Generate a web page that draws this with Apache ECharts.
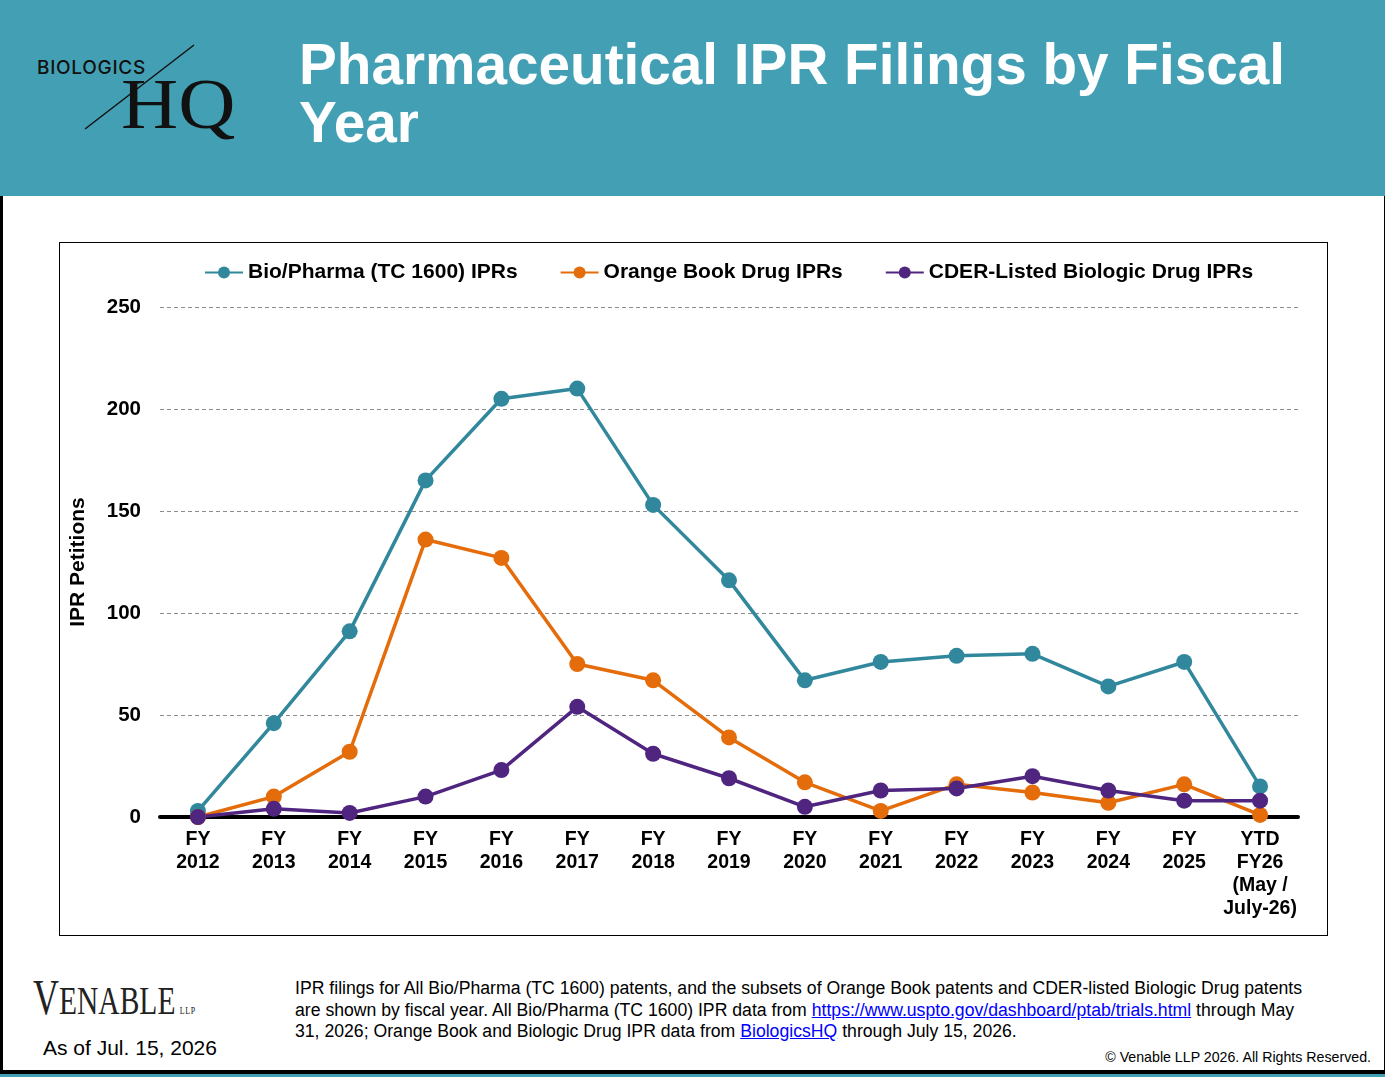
<!DOCTYPE html>
<html>
<head>
<meta charset="utf-8">
<title>Pharmaceutical IPR Filings by Fiscal Year</title>
<script src="https://cdn.jsdelivr.net/npm/echarts@6/dist/echarts.min.js"></script>
<style>
  html, body { margin: 0; padding: 0; }
  body { width: 1385px; height: 1077px; position: relative; overflow: hidden; background: #fff; font-family: "Liberation Sans", Arial, sans-serif; }
  #header { position: absolute; left: 0; top: 0; width: 1385px; height: 196px; background: #43A0B4; }
  #frame { position: absolute; left: 0; top: 196px; width: 1381px; height: 874px; border-left: 3px solid #000; border-right: 1px solid #000; border-bottom: 4px solid #000; }
  #strip { position: absolute; left: 0; top: 1074px; width: 1385px; height: 3px; background: #43A0B4; }
  #title { position: absolute; left: 299px; top: 36px; color: #fff; font-weight: bold; font-size: 56.7px; line-height: 58px; white-space: nowrap; }
  #logo-bio { position: absolute; left: 37px; top: 56px; font-family: Inter, "Noto Sans", sans-serif; font-weight: 500; font-size: 19px; line-height: 24px; color: #111; letter-spacing: 0.7px; }
  #logo-hq { position: absolute; left: 121px; top: 68px; font-family: "Liberation Serif", "Times New Roman", serif; font-size: 72px; line-height: 72px; color: #111; transform: scaleX(1.1); transform-origin: left top; }
  #logo-line { position: absolute; left: 0; top: 0; }
  #box { position: absolute; left: 59px; top: 242px; width: 1267px; height: 692px; border: 1px solid #000; }
  #chart { width: 1267px; height: 692px; }
  #venable { position: absolute; left: 33px; top: 972px; font-family: "Liberation Serif", "Times New Roman", serif; color: #222; white-space: nowrap; transform: scaleX(0.72); transform-origin: left top; line-height: 50px; }
  #venable .v { font-size: 50px; }
  #venable .rest { font-size: 41px; }
  #venable .llp { font-size: 11px; margin-left: 6px; letter-spacing: 1px; }
  #asof { position: absolute; left: 43px; top: 1036px; font-size: 21px; line-height: 24px; color: #000; }
  #note { position: absolute; left: 295px; top: 978px; font-size: 17.65px; line-height: 21.5px; color: #000; white-space: nowrap; }
  #note a { color: #0000FF; text-decoration: underline; }
  #copy { position: absolute; right: 14px; top: 1049px; font-size: 14.2px; line-height: 16px; color: #000; }
</style>
</head>
<body>
<div id="header">
  <svg id="logo-line" width="260" height="196"><line x1="85" y1="129" x2="194" y2="45" stroke="#111" stroke-width="1.5"/></svg>
  <div id="logo-bio">BIOLOGICS</div>
  <div id="logo-hq">HQ</div>
  <div id="title">Pharmaceutical IPR Filings by Fiscal<br>Year</div>
</div>
<div id="frame"></div>
<div id="strip"></div>
<div id="box"><div id="chart"></div></div>
<div id="venable"><span class="v">V</span><span class="rest">ENABLE</span><span class="llp">LLP</span></div>
<div id="asof">As of Jul. 15, 2026</div>
<div id="note">IPR filings for All Bio/Pharma (TC 1600) patents, and the subsets of Orange Book patents and CDER-listed Biologic Drug patents<br>are shown by fiscal year. All Bio/Pharma (TC 1600) IPR data from <a href="https://www.uspto.gov/dashboard/ptab/trials.html">https://www.uspto.gov/dashboard/ptab/trials.html</a> through May<br>31, 2026; Orange Book and Biologic Drug IPR data from <a href="https://www.biologicshq.com">BiologicsHQ</a> through July 15, 2026.</div>
<div id="copy">© Venable LLP 2026. All Rights Reserved.</div>

<script>
// 数据
var categories = ['FY\n2012', 'FY\n2013', 'FY\n2014', 'FY\n2015', 'FY\n2016', 'FY\n2017', 'FY\n2018',
    'FY\n2019', 'FY\n2020', 'FY\n2021', 'FY\n2022', 'FY\n2023', 'FY\n2024', 'FY\n2025', 'YTD\nFY26\n(May /\nJuly-26)'];
var seriesNames = ['Bio/Pharma (TC 1600) IPRs', 'Orange Book Drug IPRs', 'CDER-Listed Biologic Drug IPRs'];
var bioPharma = [3, 46, 91, 165, 205, 210, 153, 116, 67, 76, 79, 80, 64, 76, 15];
var orangeBook = [0, 10, 32, 136, 127, 75, 67, 39, 17, 3, 16, 12, 7, 16, 1];
var cderBiologic = [0, 4, 2, 10, 23, 54, 31, 19, 5, 13, 14, 20, 13, 8, 8];
var yMin = 0, yMax = 250, yStep = 50;

var colors = ['#31889D', '#E46C0A', '#4F2580'];
var fontFam = 'Liberation Sans, Arial, sans-serif';

// 文字样式
function txt(size) {
    return { color: '#000', fontWeight: 'bold', fontSize: size, fontFamily: fontFam };
}

function lineSeries(name, data) {
    return {
        name: name,
        type: 'line',
        data: data,
        symbol: 'circle',
        symbolSize: 16,
        lineStyle: { width: 3.5 },
        emphasis: { disabled: true }
    };
}

var myChart = echarts.init(document.getElementById('chart'));
myChart.setOption({
    animation: false,
    color: colors,
    textStyle: { fontFamily: fontFam },
    legend: {
        top: 14,
        left: 139,
        itemWidth: 38,
        itemHeight: 15,
        itemGap: 42,
        textStyle: txt(21),
        data: seriesNames
    },
    grid: { left: 100, right: 29, top: 64, bottom: 118, outerBoundsMode: 'none', containLabel: false },
    xAxis: {
        type: 'category',
        data: categories,
        boundaryGap: true,
        axisLine: { lineStyle: { color: '#000', width: 4 } },
        axisTick: { show: false },
        axisLabel: Object.assign({ interval: 0, margin: 11, lineHeight: 23 }, txt(19.5))
    },
    yAxis: {
        type: 'value',
        min: yMin,
        max: yMax,
        interval: yStep,
        name: 'IPR Petitions',
        nameLocation: 'middle',
        nameGap: 71,
        nameTextStyle: txt(21),
        axisLine: { show: false },
        axisTick: { show: false },
        axisLabel: Object.assign({ margin: 19 }, txt(20.5)),
        splitLine: { lineStyle: { color: '#8c8c8c', type: [4, 3], width: 1 } }
    },
    series: [
        lineSeries(seriesNames[0], bioPharma),
        lineSeries(seriesNames[1], orangeBook),
        lineSeries(seriesNames[2], cderBiologic)
    ]
});
</script>
</body>
</html>
